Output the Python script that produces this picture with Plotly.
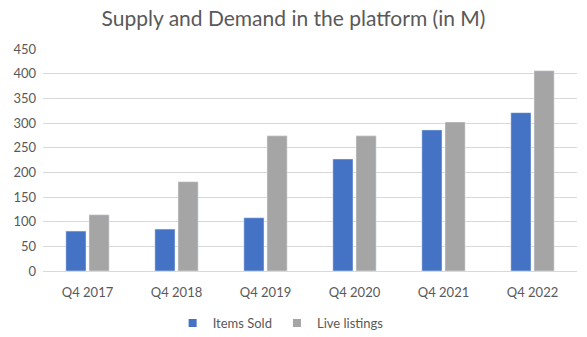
import plotly.graph_objects as go

categories = ["Q4 2017", "Q4 2018", "Q4 2019", "Q4 2020", "Q4 2021", "Q4 2022"]
items_sold = [81, 85, 108, 227, 286, 321]
live_listings = [114, 181, 274, 274, 302, 406]
y_ticks = [0, 50, 100, 150, 200, 250, 300, 350, 400, 450]
series_names = ["Items Sold", "Live listings"]
series_colors = ["#4472C4", "#A5A5A5"]

font_family = "Lato, 'Open Sans', sans-serif"
text_color = "#595959"

fig = go.Figure()
for name, vals, col in zip(series_names, [items_sold, live_listings], series_colors):
    fig.add_trace(go.Bar(x=categories, y=vals, name=name, marker_color=col,
                         legendgroup=name, showlegend=False))
    # legend proxy with small square symbol
    fig.add_trace(go.Scatter(x=[None], y=[None], mode="markers", name=name,
                             legendgroup=name,
                             marker=dict(symbol="square", size=8, color=col)))

fig.update_layout(
    width=587, height=337,
    margin=dict(l=43, r=10, t=49, b=66, autoexpand=False),
    paper_bgcolor="white", plot_bgcolor="white",
    barmode="group", bargap=0.48, bargroupgap=0.13,
    title=dict(text="Supply and Demand in the platform (in M)", x=0.5, xanchor="center",
               y=0.945, yanchor="middle",
               font=dict(family=font_family, size=21, color=text_color)),
    font=dict(family=font_family, size=13, color=text_color),
    legend=dict(orientation="h", x=0.445, xanchor="center", y=-0.234, yanchor="middle",
                font=dict(size=13, color=text_color), itemwidth=30, traceorder="normal"),
    xaxis=dict(showgrid=False, showline=True, linecolor="#D9D9D9", linewidth=1,
               automargin=False,
               ticks="", ticklabelstandoff=9, tickfont=dict(size=13, color=text_color)),
    yaxis=dict(range=[0, 450], tickvals=y_ticks, showgrid=True, gridcolor="#D9D9D9",
               gridwidth=1, zeroline=False, showline=False, ticks="", automargin=False,
               ticklabelstandoff=6, tickfont=dict(size=13, color=text_color)),
)

fig.write_html("out.html")
